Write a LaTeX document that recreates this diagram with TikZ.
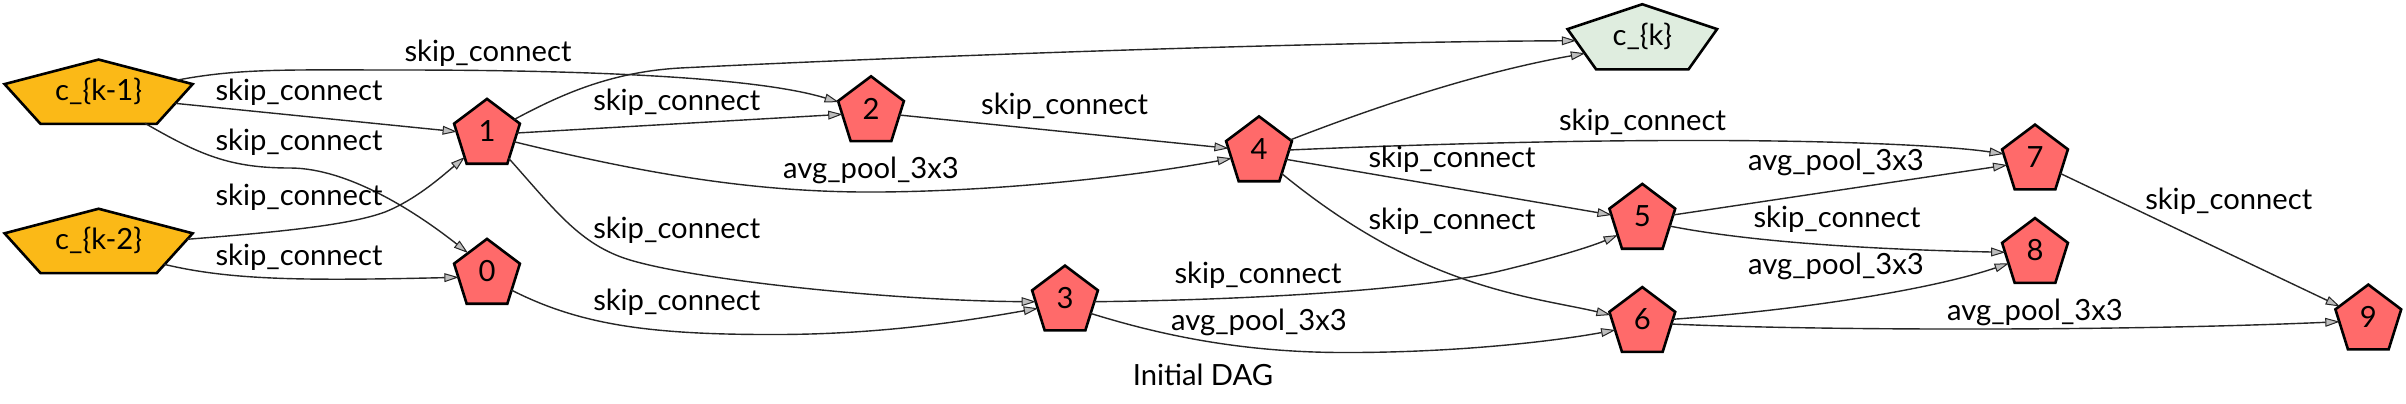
\documentclass[tikz,border=0pt]{standalone}
\usepackage{fontspec}
\setmainfont{Lato}
\usetikzlibrary{arrows.meta,calc,backgrounds}
\definecolor{nodered}{HTML}{FF6A6A}
\definecolor{nodegold}{HTML}{FBB917}
\definecolor{nodegreen}{HTML}{DFEDDF}
\definecolor{tipgray}{HTML}{BEBEBE}
\newcommand\pentshape[2]{%
  \filldraw[pent, fill=#2] (#1.north)
    -- ($(#1.west)!0.236!(#1.north west)$)
    -- ($(#1.south)!0.618!(#1.south west)$)
    -- ($(#1.south)!0.618!(#1.south east)$)
    -- ($(#1.east)!0.236!(#1.north east)$) -- cycle;}
\newcommand\lblfont{\fontsize{14.6}{17}\selectfont}
\begin{document}
\begin{tikzpicture}[x=0.5pt, y=-0.5pt,
  nd/.style={rectangle, inner sep=0pt, minimum width=32.5pt, minimum height=32pt, font=\lblfont},
  wide/.style={nd, minimum width=93.65pt, minimum height=31.75pt},
  outnd/.style={nd, minimum width=74.35pt, minimum height=32.15pt},
  pent/.style={draw=black, line width=1.3pt, line join=miter},
  edge/.style={draw=black!85, line width=0.7pt,
    -{Triangle[length=7.2pt, width=4.4pt, fill=tipgray, line width=0.5pt]}},
  lbl/.style={font=\lblfont, inner sep=0pt}]
\useasboundingbox (0,0) rectangle (2406,403);

\node[wide] (ckm1) at (98.6,91.7) {c\_\{k-1\}};
\node[wide] (ckm2) at (98.6,240.9) {c\_\{k-2\}};
\node[outnd] (ck) at (1642.3,36.8) {c\_\{k\}};
\node[nd] (n0) at (487,271.3) {0};
\node[nd] (n1) at (487,131.3) {1};
\node[nd] (n2) at (871,108.7) {2};
\node[nd] (n3) at (1065,298) {3};
\node[nd] (n4) at (1259,148.8) {4};
\node[nd] (n5) at (1642.3,216.3) {5};
\node[nd] (n6) at (1642.3,319.5) {6};
\node[nd] (n7) at (2035,157) {7};
\node[nd] (n8) at (2035,250.5) {8};
\node[nd] (n9) at (2368.3,317) {9};
\node[lbl] (title) at (1203,375) {Initial DAG};

\begin{pgfonlayer}{background}
  \fill[white] (0,0) rectangle (2406,403);
  \pentshape{ckm1}{nodegold}
  \pentshape{ckm2}{nodegold}
  \pentshape{ck}{nodegreen}
  \foreach \n in {n0,n1,n2,n3,n4,n5,n6,n7,n8,n9} {\pentshape{\n}{nodered}}
\end{pgfonlayer}

% c_{k-1}
\draw[edge] ([shift={(76.2,11.6)}]ckm1.center) -- ([shift={(-30,0.4)}]n1.center)
  node[lbl] at (299,92) {skip\_connect};
\draw[edge] ([shift={(46.4,31.6)}]ckm1.center) .. controls (200,155) and (230,168) .. (290,168)
  .. controls (350,168) and (420,215) .. ([shift={(-19,-18.3)}]n0.center)
  node[lbl] at (299,142) {skip\_connect};
\draw[edge] ([shift={(78.1,-11.5)}]ckm1.center) .. controls (240,68) and (290,70) .. (400,70)
  .. controls (600,70) and (760,78) .. ([shift={(-32,-6.5)}]n2.center)
  node[lbl] at (488,53) {skip\_connect};
% c_{k-2}
\draw[edge] ([shift={(88.2,-1.6)}]ckm2.center) .. controls (280,232) and (350,225) .. (385,212)
  .. controls (415,200) and (440,178) .. ([shift={(-22.1,25.7)}]n1.center)
  node[lbl] at (299,197) {skip\_connect};
\draw[edge] ([shift={(65.4,23.4)}]ckm2.center) .. controls (230,280) and (300,281) .. ([shift={(-28.2,6)}]n0.center)
  node[lbl] at (299,257) {skip\_connect};
% node 1
\draw[edge] ([shift={(27,-11.7)}]n1.center) .. controls (560,95) and (610,72) .. (680,68)
  .. controls (900,57) and (1300,42) .. ([shift={(-66.1,3.9)}]ck.center);
\draw[edge] ([shift={(29.6,1.7)}]n1.center) -- ([shift={(-28.4,5.6)}]n2.center)
  node[lbl] at (676.7,102.7) {skip\_connect};
\draw[edge] ([shift={(26.9,10.4)}]n1.center) .. controls (650,175) and (760,193) .. (880,192)
  .. controls (1000,191) and (1130,177) .. ([shift={(-27.1,9.5)}]n4.center)
  node[lbl] at (871,170.7) {avg\_pool\_3x3};
\draw[edge] ([shift={(21.7,27)}]n1.center) .. controls (555,210) and (580,245) .. (630,260)
  .. controls (700,281) and (900,301) .. ([shift={(-29,3.7)}]n3.center)
  node[lbl] at (676.7,230.7) {skip\_connect};
% node 0
\draw[edge] ([shift={(24.3,18.7)}]n0.center) .. controls (580,325) and (650,335) .. (780,334.5)
  .. controls (880,334) and (960,322) .. ([shift={(-26.9,10.3)}]n3.center)
  node[lbl] at (676.7,302.7) {skip\_connect};
% node 2
\draw[edge] ([shift={(28.1,6.3)}]n2.center) -- ([shift={(-30.2,-0.5)}]n4.center)
  node[lbl] at (1064.6,106.7) {skip\_connect};
% node 4
\draw[edge] ([shift={(31,-8.8)}]n4.center) .. controls (1380,105) and (1480,72) .. ([shift={(-57.1,16.5)}]ck.center);
\draw[edge] ([shift={(29.7,1.2)}]n4.center) .. controls (1450,143) and (1600,140) .. (1720,140.5)
  .. controls (1850,141) and (1950,146) .. ([shift={(-31.1,-3)}]n7.center)
  node[lbl] at (1642.5,122.7) {skip\_connect};
\draw[edge] ([shift={(26.8,10.5)}]n4.center) -- ([shift={(-30.5,-1.3)}]n5.center)
  node[lbl] at (1452,159.3) {skip\_connect};
\draw[edge] ([shift={(22.4,24.5)}]n4.center) .. controls (1320,205) and (1370,240) .. (1430,266)
  .. controls (1500,296) and (1560,303) .. ([shift={(-31.5,-4.5)}]n6.center)
  node[lbl] at (1452,221.7) {skip\_connect};
% node 3
\draw[edge] ([shift={(29,3.7)}]n3.center) .. controls (1250,300) and (1420,290) .. (1500,271)
  .. controls (1550,259) and (1590,247) .. ([shift={(-24.3,18.7)}]n5.center)
  node[lbl] at (1258,275) {skip\_connect};
\draw[edge] ([shift={(25.3,15.3)}]n3.center) .. controls (1160,335) and (1240,352) .. (1340,352.5)
  .. controls (1450,353) and (1550,342) .. ([shift={(-26.8,10.5)}]n6.center)
  node[lbl] at (1259,322.7) {avg\_pool\_3x3};
% node 5
\draw[edge] ([shift={(30.5,-1.3)}]n5.center) -- ([shift={(-27.6,8)}]n7.center)
  node[lbl] at (1836,162.7) {avg\_pool\_3x3};
\draw[edge] ([shift={(27.1,9.7)}]n5.center) .. controls (1740,240) and (1850,249) .. ([shift={(-29.5,1.8)}]n8.center)
  node[lbl] at (1837,219.3) {skip\_connect};
% node 6
\draw[edge] ([shift={(30.1,-0.2)}]n6.center) .. controls (1800,310) and (1930,290) .. ([shift={(-26,12.8)}]n8.center)
  node[lbl] at (1836,266.7) {avg\_pool\_3x3};
\draw[edge] ([shift={(28.7,4.5)}]n6.center) .. controls (1800,330) and (2100,332) .. ([shift={(-28.6,4.7)}]n9.center)
  node[lbl] at (2035,312.7) {avg\_pool\_3x3};
% node 7
\draw[edge] ([shift={(25,16.3)}]n7.center) -- ([shift={(-28.3,-10.5)}]n9.center)
  node[lbl] at (2228.7,201) {skip\_connect};
\end{tikzpicture}
\end{document}
